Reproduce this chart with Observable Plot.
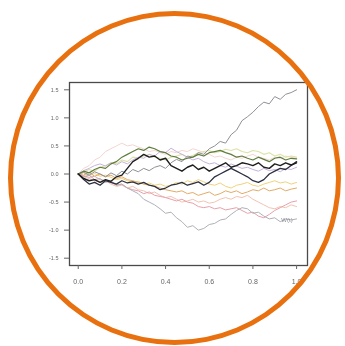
<!DOCTYPE html>
<html><head><meta charset="utf-8">
<script src="https://cdn.jsdelivr.net/npm/d3@7"></script>
<script src="https://cdn.jsdelivr.net/npm/@observablehq/plot@0.6"></script>
<style>
html,body{margin:0;padding:0;background:#fff;width:345px;height:346px;overflow:hidden;}
#wrap{position:relative;width:345px;height:346px;}
#ring{position:absolute;left:8px;top:11px;width:333px;height:334px;box-sizing:border-box;border:5px solid #e8700e;border-radius:50%;}
#chart{position:absolute;left:0;top:0;}
#chart svg{filter:blur(0.55px);}
</style></head>
<body><div id="wrap"><div id="chart"></div><div id="ring"></div></div>
<script>
const times = d3.range(41).map(i => i / 40);
const xTicks = [0, 0.2, 0.4, 0.6, 0.8, 1.0];
const yTicks = [1.5, 1.0, 0.5, 0.0, -0.5, -1.0, -1.5];
const pathGrayUp = [0,0.03,-0.02,0.04,0.0,-0.05,0.02,-0.03,0.05,0.0,0.08,0.04,0.1,0.06,0.12,0.15,0.1,0.2,0.26,0.22,0.32,0.3,0.38,0.35,0.45,0.5,0.58,0.55,0.7,0.78,0.95,1.02,1.1,1.2,1.28,1.25,1.38,1.33,1.42,1.45,1.5];
const pathGrayDown = [0,-0.05,-0.02,-0.1,-0.08,-0.15,-0.12,-0.2,-0.18,-0.25,-0.3,-0.35,-0.45,-0.5,-0.55,-0.62,-0.7,-0.68,-0.78,-0.85,-0.95,-0.92,-1.0,-0.97,-0.9,-0.88,-0.82,-0.8,-0.72,-0.65,-0.6,-0.62,-0.7,-0.68,-0.75,-0.8,-0.78,-0.85,-0.8,-0.82,-0.8];
const pathBlack = [0,-0.08,-0.12,-0.1,-0.15,-0.1,-0.13,-0.05,-0.02,0.1,0.22,0.28,0.35,0.3,0.32,0.25,0.28,0.15,0.1,0.05,0.12,0.16,0.08,0.12,0.05,0.1,0.15,0.2,0.12,0.15,0.2,0.18,0.15,0.2,0.12,0.1,0.18,0.15,0.2,0.16,0.2];
const pathNavy = [0,-0.1,-0.18,-0.15,-0.2,-0.12,-0.15,-0.18,-0.12,-0.16,-0.14,-0.18,-0.15,-0.2,-0.22,-0.28,-0.25,-0.2,-0.18,-0.15,-0.2,-0.17,-0.14,-0.2,-0.15,-0.05,0.0,0.05,0.1,0.05,0.0,-0.05,-0.12,-0.15,-0.1,0.0,0.05,0.1,0.08,0.15,0.22];
const pathGreen = [0,0.05,0.02,0.08,0.12,0.1,0.18,0.22,0.3,0.35,0.4,0.45,0.42,0.48,0.45,0.4,0.38,0.32,0.3,0.25,0.28,0.3,0.35,0.32,0.38,0.4,0.42,0.38,0.35,0.3,0.32,0.28,0.25,0.3,0.26,0.22,0.28,0.3,0.25,0.28,0.27];
const pathLime = [0,0.04,0.08,0.05,0.12,0.15,0.2,0.18,0.25,0.22,0.3,0.28,0.32,0.35,0.3,0.28,0.25,0.3,0.32,0.35,0.3,0.33,0.38,0.4,0.42,0.38,0.4,0.44,0.42,0.45,0.4,0.38,0.42,0.4,0.35,0.38,0.32,0.35,0.3,0.32,0.3];
const pathPurple = [0,0.06,0.1,0.15,0.18,0.14,0.2,0.16,0.22,0.18,0.25,0.3,0.28,0.35,0.32,0.4,0.38,0.46,0.4,0.35,0.3,0.25,0.28,0.22,0.18,0.2,0.15,0.12,0.18,0.14,0.1,0.12,0.08,0.05,0.1,0.06,0.08,0.04,0.1,0.08,0.12];
const pathOrange = [0,-0.02,0.03,-0.04,0.0,-0.05,-0.02,-0.08,-0.05,-0.1,-0.12,-0.15,-0.18,-0.2,-0.22,-0.25,-0.28,-0.3,-0.32,-0.3,-0.35,-0.33,-0.38,-0.35,-0.32,-0.38,-0.35,-0.3,-0.33,-0.3,-0.35,-0.32,-0.28,-0.3,-0.25,-0.3,-0.28,-0.25,-0.3,-0.27,-0.25];
const pathYellow = [0,0.02,-0.03,0.01,-0.04,-0.02,-0.06,-0.1,-0.08,-0.12,-0.15,-0.13,-0.18,-0.16,-0.2,-0.18,-0.22,-0.2,-0.15,-0.18,-0.12,-0.15,-0.1,-0.14,-0.18,-0.2,-0.16,-0.22,-0.25,-0.2,-0.18,-0.15,-0.2,-0.22,-0.18,-0.15,-0.12,-0.16,-0.14,-0.18,-0.15];
const pathPink = [0,-0.03,-0.06,-0.04,-0.1,-0.12,-0.15,-0.2,-0.18,-0.25,-0.28,-0.3,-0.35,-0.32,-0.38,-0.4,-0.42,-0.45,-0.48,-0.45,-0.5,-0.52,-0.58,-0.6,-0.58,-0.62,-0.6,-0.64,-0.62,-0.6,-0.65,-0.7,-0.68,-0.75,-0.78,-0.72,-0.65,-0.6,-0.55,-0.5,-0.48];
const pathSalmon = [0,-0.05,-0.08,-0.12,-0.15,-0.12,-0.18,-0.22,-0.2,-0.25,-0.22,-0.28,-0.3,-0.35,-0.32,-0.38,-0.42,-0.4,-0.45,-0.5,-0.48,-0.45,-0.5,-0.48,-0.52,-0.5,-0.45,-0.42,-0.45,-0.4,-0.42,-0.38,-0.45,-0.5,-0.55,-0.6,-0.62,-0.58,-0.6,-0.55,-0.58];
const pathRose = [0,0.1,0.15,0.25,0.3,0.4,0.45,0.5,0.55,0.5,0.52,0.48,0.45,0.4,0.42,0.38,0.35,0.4,0.38,0.42,0.4,0.45,0.42,0.38,0.35,0.3,0.32,0.28,0.25,0.3,0.28,0.32,0.35,0.3,0.28,0.25,0.3,0.28,0.32,0.3,0.28];
const noteText = ["W(t)"];
const noteT = [0.93];
const noteY = [-0.82];

const series = [
  {v: pathRose, c: "#f3d6d2", w: 1},
  {v: pathSalmon, c: "#f2c2b2", w: 1},
  {v: pathLime, c: "#dde3a6", w: 1.1},
  {v: pathPurple, c: "#c6b2dc", w: 1},
  {v: pathYellow, c: "#efd27c", w: 1},
  {v: pathOrange, c: "#e2aa66", w: 1},
  {v: pathPink, c: "#e7a0aa", w: 1},
  {v: pathGrayDown, c: "#aeb0b6", w: 1},
  {v: pathGrayUp, c: "#8e9096", w: 1},
  {v: pathGreen, c: "#5f7c3c", w: 1.2},
  {v: pathNavy, c: "#2c3040", w: 1.3},
  {v: pathBlack, c: "#1e1e1e", w: 1.4}
];

const marks = series.map(s => Plot.line(times.map((t, i) => ({t, y: s.v[i]})), {x: "t", y: "y", stroke: s.c, strokeWidth: s.w}));

const chart = Plot.plot({
  width: 345, height: 346,
  marginLeft: 69, marginRight: 38, marginTop: 82, marginBottom: 81,
  style: {background: "transparent", fontFamily: "Liberation Sans, Arial, sans-serif"},
  x: {domain: [-0.04, 1.05]},
  y: {domain: [-1.63, 1.63]},
  marks: [
    ...marks,
    Plot.text(noteText.map((s, i) => ({s, t: noteT[i], y: noteY[i]})), {x: "t", y: "y", text: "s", fill: "#8a8c92", fontSize: 6, textAnchor: "start"}),
    Plot.frame({stroke: "#4a4a4a", strokeWidth: 1.3}),
    Plot.axisX({ticks: xTicks, tickFormat: d => d.toFixed(1), tickSize: 4, tickPadding: 10, fontSize: 7, color: "#666", label: null}),
    Plot.axisY({ticks: yTicks, tickFormat: d => d.toFixed(1), tickSize: 5, tickPadding: 6, fontSize: 5.5, color: "#666", label: null})
  ]
});
document.getElementById("chart").appendChild(chart);
</script>
</body></html>
